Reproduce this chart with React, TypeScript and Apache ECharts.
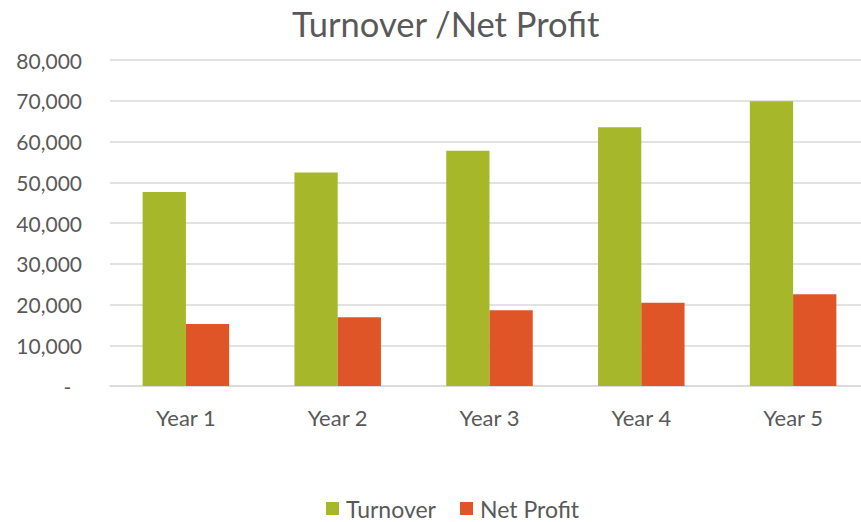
import React, { useEffect, useRef } from "react";
import * as echarts from "echarts";

const categories = ["Year 1", "Year 2", "Year 3", "Year 4", "Year 5"];
const turnover = [47600, 52400, 57700, 63500, 69900];
const netProfit = [15200, 16900, 18600, 20400, 22500];
const seriesNames = ["Turnover", "Net Profit"];
const titleText = "Turnover /Net Profit";

const FONT = "Lato, 'Open Sans', sans-serif";
const TEXT = "#595959";

export default function App() {
  const ref = useRef<HTMLDivElement>(null);
  useEffect(() => {
    if (!ref.current) return;
    const chart = echarts.init(ref.current, null, { renderer: "svg" });
    chart.setOption({
      animation: false,
      backgroundColor: "#ffffff",
      title: {
        text: titleText,
        left: 287,
        top: 1,
        textStyle: { fontFamily: FONT, fontSize: 34.5, fontWeight: "normal", color: TEXT },
      },
      legend: {
        data: seriesNames,
        left: 326,
        top: 497,
        padding: 0,
        itemWidth: 13,
        itemHeight: 13,
        itemGap: 24,
        icon: "rect",
        textStyle: { fontFamily: FONT, fontSize: 23, color: TEXT, padding: [0, 0, 0, 2] },
      },
      grid: { left: 110, width: 759, top: 60, height: 326, containLabel: false },
      xAxis: {
        type: "category",
        data: categories,
        axisLine: { lineStyle: { color: "#d9d9d9", width: 1.5 } },
        axisTick: { show: false },
        axisLabel: { fontFamily: FONT, fontSize: 22, color: TEXT, margin: 20 },
      },
      yAxis: {
        type: "value",
        min: 0,
        max: 80000,
        interval: 10000,
        axisLine: { show: false },
        axisTick: { show: false },
        splitLine: { lineStyle: { color: "#d9d9d9", width: 1.5 } },
        axisLabel: {
          fontFamily: FONT,
          fontSize: 21,
          color: TEXT,
          margin: 28,
          formatter: (v: number) => (v === 0 ? "-  " : v.toLocaleString("en-US")),
        },
      },
      series: [
        {
          name: seriesNames[0],
          type: "bar",
          data: turnover,
          barGap: "0%",
          barCategoryGap: "43%",
          itemStyle: { color: "#a7b72a" },
        },
        {
          name: seriesNames[1],
          type: "bar",
          data: netProfit,
          barGap: "0%",
          barCategoryGap: "43%",
          itemStyle: { color: "#e05527" },
        },
      ],
    });
    return () => chart.dispose();
  }, []);
  return (
    <div
      ref={ref}
      style={{ position: "fixed", left: 0, top: 0, width: 880, height: 522, background: "#fff" }}
    />
  );
}
